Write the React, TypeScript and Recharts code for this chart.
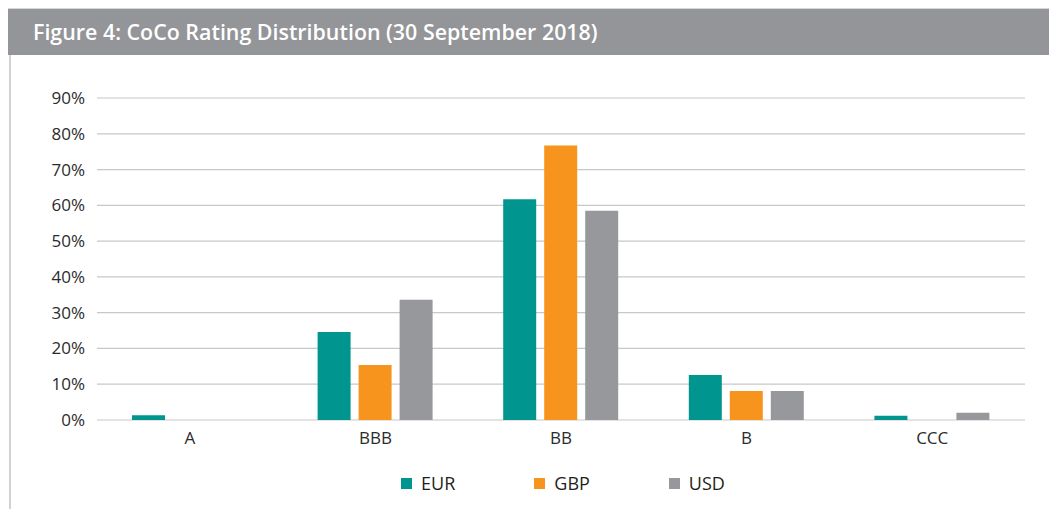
import { Bar, BarChart, CartesianGrid, XAxis, YAxis } from "recharts";

// Rating buckets and the share of CoCo issuance (percent) per currency.
const ratings = ["A", "BBB", "BB", "B", "CCC"];
const eur = [1.3, 24.6, 61.7, 12.6, 1.2];
const gbp = [0, 15.4, 76.7, 8.1, 0];
const usd = [0, 33.6, 58.5, 8.1, 2.0];
const yTicks = [0, 10, 20, 30, 40, 50, 60, 70, 80, 90];

const series = [
  { key: "EUR", color: "#00968f" },
  { key: "GBP", color: "#f7941d" },
  { key: "USD", color: "#97989c" },
];

const data = ratings.map((r, i) => ({ rating: r, EUR: eur[i], GBP: gbp[i], USD: usd[i] }));

const FONT = "'Open Sans', 'Noto Sans', sans-serif";

function LegendRow() {
  return (
    <div
      style={{
        position: "absolute",
        left: 0,
        top: 463,
        width: 1110,
        display: "flex",
        justifyContent: "center",
        gap: 79,
        fontFamily: FONT,
        fontSize: 18,
        lineHeight: "24px",
        color: "#231f20",
      }}
    >
      {series.map((s) => (
        <span key={s.key} style={{ display: "flex", alignItems: "center", gap: 9 }}>
          <span style={{ display: "inline-block", width: 11, height: 11, background: s.color }} />
          <span>{s.key}</span>
        </span>
      ))}
    </div>
  );
}

export default function App() {
  return (
    <div style={{ position: "relative", width: 1049, height: 501, background: "#fff", overflow: "hidden" }}>
      <div
        style={{
          position: "absolute",
          left: 0,
          top: 0,
          width: 1049,
          height: 47,
          background: "#939598",
          borderTop: "1px solid #d6d6d6",
          color: "#fff",
          fontFamily: FONT,
          fontWeight: 600,
          fontSize: 21.4,
          lineHeight: "46px",
          paddingLeft: 25,
          boxSizing: "border-box",
        }}
      >
        Figure 4: CoCo Rating Distribution (30 September 2018)
      </div>
      <div
        style={{ position: "absolute", left: 1, top: 47, width: 2, height: 454, background: "#d2d2d2" }}
      />
      <div style={{ position: "absolute", left: 0, top: 55 }}>
        <BarChart
          width={1049}
          height={446}
          data={data}
          margin={{ top: 35, right: 32, bottom: 0, left: 0 }}
          barSize={33}
          barGap={8}
        >
          <CartesianGrid horizontal vertical={false} stroke="#c8c8c8" strokeWidth={1.2} />
          <XAxis
            dataKey="rating"
            axisLine={false}
            tickLine={false}
            tickMargin={6}
            height={89}
            tick={{ fill: "#2b2b2b", fontSize: 17, fontFamily: FONT }}
          />
          <YAxis
            width={89}
            domain={[0, 90]}
            ticks={yTicks}
            interval={0}
            axisLine={false}
            tickLine={false}
            tickMargin={6}
            tickFormatter={(v: number) => `${v}%`}
            tick={{ fill: "#2b2b2b", fontSize: 17, fontFamily: FONT }}
          />
          {series.map((s) => (
            <Bar key={s.key} dataKey={s.key} fill={s.color} isAnimationActive={false} />
          ))}
        </BarChart>
      </div>
      <LegendRow />
    </div>
  );
}
